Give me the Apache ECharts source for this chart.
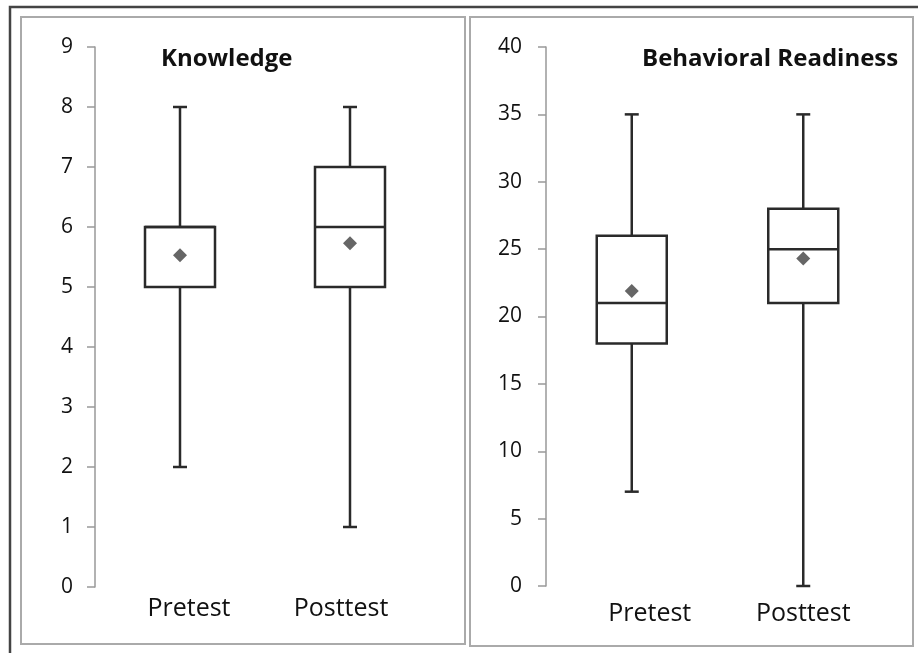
<!DOCTYPE html>
<html>
<head>
<meta charset="utf-8">
<script src="https://cdn.jsdelivr.net/npm/echarts@6/dist/echarts.min.js"></script>
<style>html,body{margin:0;padding:0;background:#fff}#c{width:918px;height:653px}</style>
</head>
<body>
<div id="c"></div>
<script>
// ---- data ----
const categories = ['Pretest', 'Posttest'];
// [min, Q1, median, Q3, max]
const knowledgeBox = [[2, 5, 6, 6, 8], [1, 5, 6, 7, 8]];
const knowledgeMean = [5.53, 5.73];
const behaviorBox = [[7, 18, 21, 26, 35], [0, 21, 25, 28, 35]];
const behaviorMean = [21.9, 24.3];
const knowledgeAxis = { min: 0, max: 9, interval: 1 };
const behaviorAxis = { min: 0, max: 40, interval: 5 };
const titles = ['Knowledge', 'Behavioral Readiness'];

const FONT = '"Open Sans"';
const INK = '#2a2a2a';

function toRows(box, mean) {
  return box.map((b, i) => [i].concat(b).concat([mean[i]]));
}

function renderBox(params, api) {
  const x = api.value(0);
  const v = [1, 2, 3, 4, 5].map(k => api.value(k));
  const mean = api.value(6);
  const p = v.map(val => api.coord([x, val]));
  const m = api.coord([x, mean]);
  const cx = p[0][0];
  const bw = 70, cap = 14, d = 7;
  const ls = { stroke: INK, lineWidth: 2.5, fill: null };
  return {
    type: 'group',
    children: [
      { type: 'line', shape: { x1: cx, y1: p[0][1], x2: cx, y2: p[1][1] }, style: ls },
      { type: 'line', shape: { x1: cx, y1: p[3][1], x2: cx, y2: p[4][1] }, style: ls },
      { type: 'line', shape: { x1: cx - cap / 2, y1: p[0][1], x2: cx + cap / 2, y2: p[0][1] }, style: ls },
      { type: 'line', shape: { x1: cx - cap / 2, y1: p[4][1], x2: cx + cap / 2, y2: p[4][1] }, style: ls },
      { type: 'rect', shape: { x: cx - bw / 2, y: p[3][1], width: bw, height: p[1][1] - p[3][1] }, style: { stroke: INK, lineWidth: 2.5, fill: '#fff' } },
      { type: 'line', shape: { x1: cx - bw / 2, y1: p[2][1], x2: cx + bw / 2, y2: p[2][1] }, style: ls },
      { type: 'polygon', shape: { points: [[m[0], m[1] - d], [m[0] + d, m[1]], [m[0], m[1] + d], [m[0] - d, m[1]]] }, style: { fill: '#666', stroke: null } }
    ]
  };
}

const chart = echarts.init(document.getElementById('c'), null, { renderer: 'canvas' });

function yAxis(gi, ax, margin) {
  return {
    type: 'value', gridIndex: gi, min: ax.min, max: ax.max, interval: ax.interval,
    axisLine: { show: true, lineStyle: { color: '#999', width: 1.5 } },
    axisTick: { show: true, length: 8, lineStyle: { color: '#999', width: 1.5 } },
    splitLine: { show: false },
    axisLabel: { color: '#111', fontSize: 21, fontFamily: FONT, margin: margin, padding: [6, 0, 0, 0] }
  };
}

function xAxis(gi, margin, shifts) {
  return {
    type: 'category', gridIndex: gi, data: categories,
    axisLine: { show: false }, axisTick: { show: false },
    axisLabel: {
      margin: margin,
      formatter: (val, idx) => '{' + (['a', 'b'][idx]) + '|' + val + '}',
      rich: {
        a: { fontSize: 25, fontFamily: FONT, color: '#111', padding: shifts[0] },
        b: { fontSize: 25, fontFamily: FONT, color: '#111', padding: shifts[1] }
      }
    }
  };
}

chart.setOption({
  animation: false,
  backgroundColor: '#fff',
  title: [
    { text: titles[0], left: 156, top: 42, textStyle: { fontFamily: FONT, fontWeight: 'bold', fontSize: 24, color: '#111' } },
    { text: titles[1], left: 637, top: 42, textStyle: { fontFamily: FONT, fontWeight: 'bold', fontSize: 24, color: '#111' } }
  ],
  graphic: [
    { type: 'polyline', shape: { points: [[10, 653], [10, 7], [918, 7]] }, style: { stroke: '#444', lineWidth: 2.5, fill: null } },
    { type: 'rect', shape: { x: 21, y: 17, width: 444, height: 627 }, style: { stroke: '#aaa', lineWidth: 2, fill: null } },
    { type: 'rect', shape: { x: 470, y: 17, width: 443, height: 629 }, style: { stroke: '#aaa', lineWidth: 2, fill: null } }
  ],
  grid: [
    { left: 95, top: 47, width: 340, height: 540 },
    { left: 546, top: 47, width: 343, height: 539 }
  ],
  xAxis: [xAxis(0, 9, [[0, 0, 0, 18], [0, 18, 0, 0]]), xAxis(1, 15, [[0, 0, 0, 36], [0, 0, 0, 0]])],
  yAxis: [yAxis(0, knowledgeAxis, 22), yAxis(1, behaviorAxis, 24)],
  series: [
    { type: 'custom', xAxisIndex: 0, yAxisIndex: 0, renderItem: renderBox, encode: { x: 0, y: [1, 2, 3, 4, 5] }, data: toRows(knowledgeBox, knowledgeMean) },
    { type: 'custom', xAxisIndex: 1, yAxisIndex: 1, renderItem: renderBox, encode: { x: 0, y: [1, 2, 3, 4, 5] }, data: toRows(behaviorBox, behaviorMean) }
  ]
});
</script>
</body>
</html>
